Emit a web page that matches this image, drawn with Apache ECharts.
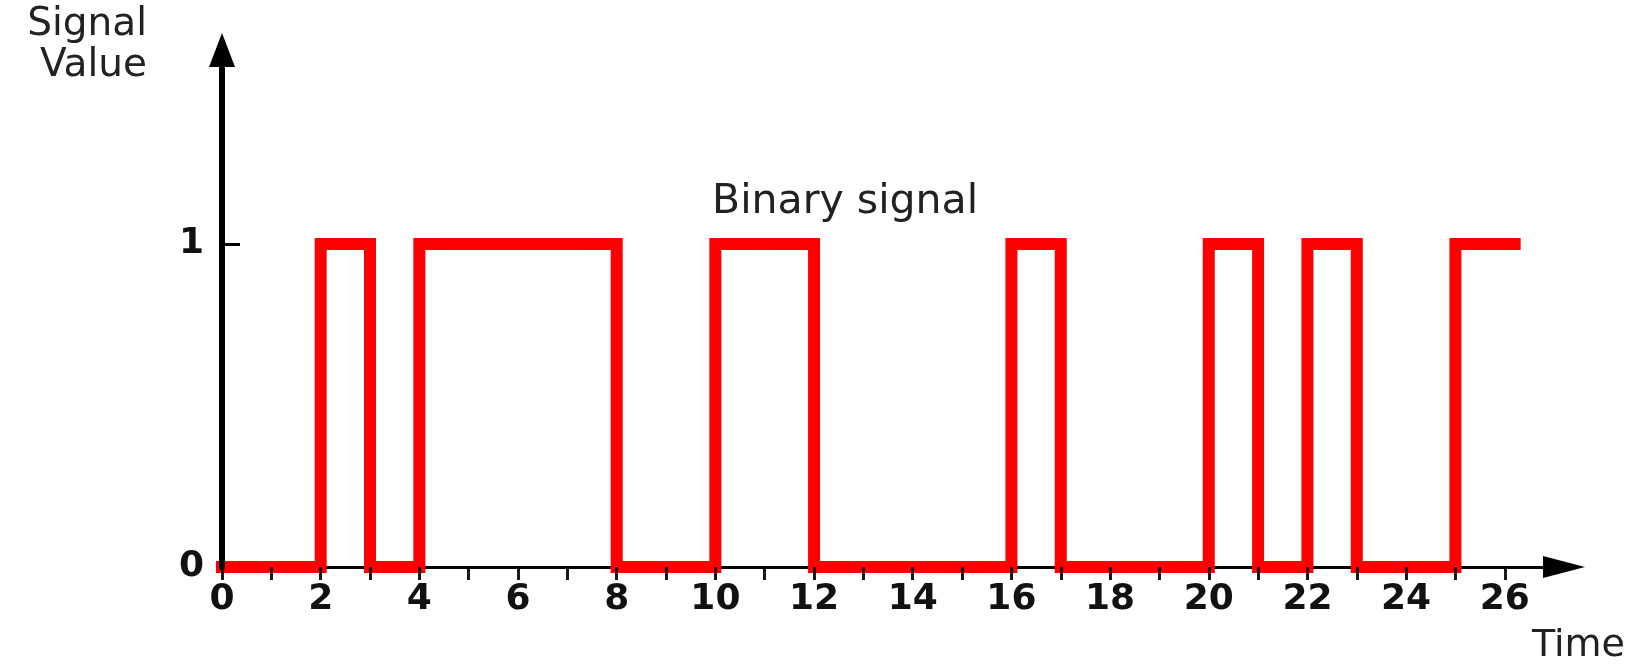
<!DOCTYPE html>
<html>
<head>
<meta charset="utf-8">
<script src="https://cdn.jsdelivr.net/npm/echarts@6/dist/echarts.min.js"></script>
<style>
  html, body { margin: 0; padding: 0; background: #fff; }
  #chart { width: 1651px; height: 665px; }
</style>
</head>
<body>
<div id="chart"></div>
<script>
// signal change points (time, level), drawn as a step line
const changeTimes = [0, 2, 3, 4, 8, 10, 12, 16, 17, 20, 21, 22, 23, 25, 26.2];
const levels      = [0, 1, 0, 1, 0, 1, 0, 1, 0, 1, 0, 1, 0, 1, 1];

const xTicks  = [0,1,2,3,4,5,6,7,8,9,10,11,12,13,14,15,16,17,18,19,20,21,22,23,24,25,26];
const xLabels = [0, 2, 4, 6, 8, 10, 12, 14, 16, 18, 20, 22, 24, 26];
const yLabels = [0, 1];

const signalData = changeTimes.map((t, i) => [t, levels[i]]);

const myChart = echarts.init(document.getElementById('chart'));

const option = {
  animation: false,
  backgroundColor: '#fff',
  grid: {
    left: 222,
    right: 87,
    top: 50,
    bottom: 96
  },
  graphic: [
    {
      type: 'text',
      left: 712,
      top: 182,
      style: {
        text: 'Binary signal',
        fontFamily: 'DejaVu Sans',
        fontSize: 41,
        fill: '#222'
      }
    }
  ],
  xAxis: [
    {
      type: 'value',
      min: 0,
      max: 27.2,
      splitLine: { show: false },
      axisLine: {
        show: true,
        onZero: false,
        symbol: ['none', 'triangle'],
        symbolSize: [22, 42],
        lineStyle: { color: '#000', width: 3 }
      },
      axisTick: { show: false },
      axisLabel: {
        customValues: xLabels,
        margin: 15,
        color: '#111',
        fontFamily: 'DejaVu Sans',
        fontWeight: 'bold',
        fontSize: 36
      },
      name: 'Time',
      nameLocation: 'end',
      nameGap: -32,
      nameTextStyle: {
        align: 'left',
        verticalAlign: 'top',
        padding: [60, 0, 0, 0],
        color: '#222',
        fontFamily: 'DejaVu Sans',
        fontSize: 38
      }
    },
    {
      // ticks only, drawn above the signal
      type: 'value',
      min: 0,
      max: 27.2,
      z: 5,
      splitLine: { show: false },
      axisLine: { show: false },
      axisLabel: { show: false },
      axisTick: {
        show: true,
        inside: true,
        length: 13,
        customValues: xTicks,
        lineStyle: { color: 'rgba(0,0,0,0.9)', width: 3 }
      }
    }
  ],
  yAxis: {
    type: 'value',
    min: 0,
    max: 1.6,
    z: 5,
    splitLine: { show: false },
    axisLine: {
      show: true,
      onZero: false,
      symbol: ['none', 'triangle'],
      symbolSize: [26, 34],
      lineStyle: { color: '#000', width: 6 }
    },
    axisTick: {
      show: true,
      inside: true,
      length: 18,
      customValues: [1],
      lineStyle: { color: '#000', width: 3 }
    },
    axisLabel: {
      customValues: yLabels,
      margin: 18,
      color: '#111',
      fontFamily: 'DejaVu Sans',
      fontWeight: 'bold',
      fontSize: 36
    },
    name: 'Signal\nValue',
    nameLocation: 'end',
    nameGap: 46,
    nameTextStyle: {
      align: 'right',
      verticalAlign: 'top',
      lineHeight: 41,
      padding: [0, 75, 0, 0],
      color: '#222',
      fontFamily: 'DejaVu Sans',
      fontSize: 39
    }
  },
  series: [
    {
      name: 'Binary signal',
      type: 'line',
      step: 'end',
      xAxisIndex: 0,
      symbol: 'none',
      data: signalData,
      lineStyle: {
        color: '#ff0000',
        width: 12,
        cap: 'square',
        join: 'miter'
      },
      z: 2
    }
  ]
};

myChart.setOption(option);
</script>
</body>
</html>
